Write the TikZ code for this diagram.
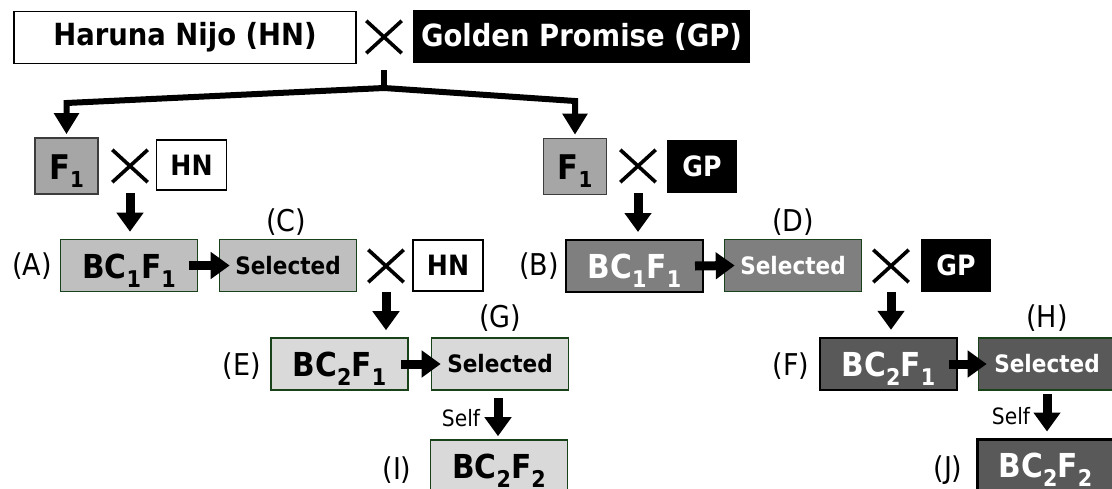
\documentclass[tikz,border=0pt]{standalone}
\usepackage{fontspec}
\setmainfont{DejaVu Sans}[FakeStretch=0.9]
\usetikzlibrary{arrows.meta,calc}

\definecolor{edgegreen}{RGB}{26,66,26}
\definecolor{f1gray}{RGB}{166,166,166}
\definecolor{f1edge}{RGB}{60,60,60}
\definecolor{bcone}{RGB}{191,191,191}
\definecolor{bctwo}{RGB}{217,217,217}
\definecolor{gpone}{RGB}{127,127,127}
\definecolor{gptwo}{RGB}{89,89,89}

% lowered, smaller digit used as a subscript: size, drop, text
\newcommand\lowered[3]{\raisebox{-#2pt}{\fontsize{#1}{#1}\selectfont #3}}
\newcommand\bcf[2]{BC\lowered{23}{9}{#1}F\lowered{23}{9}{#2}}

\tikzset{
  cell/.style={draw, line width=1.6pt, inner sep=0pt, align=center},
  parent/.style={cell, minimum height=52pt, font=\fontsize{30.5}{30.5}\selectfont\bfseries},
  mini/.style={cell, minimum width=70pt, minimum height=51pt, font=\fontsize{28}{28}\selectfont\bfseries},
  blackcell/.style={fill=black, draw=none, text=white},
  fone/.style={cell, draw=f1edge, fill=f1gray, minimum width=63pt, minimum height=56pt,
    font=\fontsize{34}{34}\selectfont\bfseries, text height=34pt, text depth=8pt},
  gen/.style={cell, minimum width=137pt, minimum height=52pt,
    font=\fontsize{33}{33}\selectfont\bfseries, text height=34pt, text depth=9pt},
  sel/.style={cell, minimum width=137pt, minimum height=52pt,
    font=\fontsize{24}{24}\selectfont\bfseries},
  tag/.style={inner sep=0pt, font=\fontsize{30}{30}\selectfont},
  selftag/.style={inner sep=0pt, font=\fontsize{22.5}{22.5}\selectfont},
  crossmark/.style={inner sep=0pt, minimum width=35pt, minimum height=32pt},
  crossline/.style={line width=3.6pt},
  flow/.style={line width=9pt, -{Triangle[width=26pt,length=19pt]}},
  trunk/.style={line width=6pt, line join=miter},
  branch/.style={trunk, -{Triangle[width=24pt,length=21pt]}},
}

\begin{document}
\begin{tikzpicture}[x=1pt,y=-1pt]
\useasboundingbox (0,0) rectangle (1112,488);
\clip (0,0) rectangle (1112,488);

% parents
\node[parent, minimum width=342pt, fill=white] (hn0) at (185,37.5) {Haruna Nijo (HN)};
\node[crossmark] (x0) at (384,37) {};
\node[parent, blackcell, minimum width=337pt, minimum height=53pt] (gp0) at (581.5,36.5) {Golden Promise (GP)};

% F1 crosses
\node[fone] (f1a) at (66.5,166) {F\lowered{22}{8}{1}};
\node[crossmark] (x1) at (130,166) {};
\node[mini, fill=white, minimum height=50pt] (hn1) at (191.5,165) {HN};

\node[fone] (f1b) at (575,166.5) {F\lowered{22}{8}{1}};
\node[crossmark] (x2) at (638,166) {};
\node[mini, blackcell, minimum height=53pt] (gp1) at (702,166.5) {GP};

% BC1F1 row
\node[tag] (labA) at (32,266) {(A)};
\node[gen, draw=edgegreen, fill=bcone] (A) at (129,265.5) {\bcf{1}{1}};
\node[tag] (labC) at (286,222) {(C)};
\node[sel, draw=edgegreen, fill=bcone] (C) at (288,265.5) {Selected};
\node[crossmark] (x3) at (386,266) {};
\node[mini, fill=white] (hn2) at (448,265.5) {HN};

\node[tag] (labB) at (539,266) {(B)};
\node[gen, draw=black, line width=2pt, fill=gpone, text=white] (B) at (634.5,266) {\bcf{1}{1}};
\node[tag] (labD) at (793,222) {(D)};
\node[sel, draw=edgegreen, fill=gpone, text=white] (D) at (793,265.5) {Selected};
\node[crossmark] (x4) at (891,266) {};
\node[mini, blackcell, minimum height=53pt] (gp2) at (956,265.5) {GP};

% BC2F1 row
\node[tag] (labE) at (242,366) {(E)};
\node[gen, draw=edgegreen, fill=bctwo] (E) at (339.5,364) {\bcf{2}{1}};
\node[tag] (labG) at (500,318) {(G)};
\node[sel, draw=edgegreen, fill=bctwo] (G) at (500,364) {Selected};

\node[tag] (labF) at (791,366) {(F)};
\node[gen, draw=black, line width=2.4pt, fill=gptwo, text=white] (F) at (888.5,364) {\bcf{2}{1}};
\node[tag] (labH) at (1047,318) {(H)};
\node[sel, draw=edgegreen, fill=gptwo, text=white] (H) at (1047,364) {Selected};

% BC2F2 row
\node[selftag] (selfI) at (461,418) {Self};
\node[tag] (labI) at (397,470) {(I)};
\node[gen, draw=edgegreen, fill=bctwo] (I) at (499,466) {\bcf{2}{2}};

\node[selftag] (selfJ) at (1011,416) {Self};
\node[tag] (labJ) at (948,470) {(J)};
\node[gen, draw=black, line width=3pt, fill=gptwo, text=white] (J) at (1045.5,465) {\bcf{2}{2}};

% cross symbols
\foreach \c in {x0,x1,x2,x3,x4}
  \draw[crossline] (\c.north west) -- (\c.south east) (\c.north east) -- (\c.south west);

% split from the first cross to both F1 plants
\coordinate (stemtop) at (384,70);
\coordinate (hub) at (384,88);
\coordinate (bendL) at (66.5,103);
\coordinate (bendR) at (575,101);
\draw[trunk] (stemtop) -- (hub);
\draw[branch] (hub) -- (bendL) -- ($(f1a.north)+(0,-3)$);
\draw[branch] (hub) -- (bendR) -- ($(f1b.north)+(0,-3)$);

% backcross arrows
\draw[flow] ($(x1.south)+(0,11)$) -- ($(x1 |- A.north)+(0,-7)$);
\draw[flow] ($(x2.south)+(0,11)$) -- ($(x2 |- B.north)+(0,-7)$);
\draw[flow] ($(x3.south)+(0,10)$) -- ($(x3 |- E.north)+(0,-7)$);
\draw[flow] ($(x4.south)+(0,10)$) -- ($(x4 |- F.north)+(0,-7)$);

% selection arrows
\draw[flow] ($(A.east)+(-9,0)$) -- ($(C.west)+(11,0)$);
\draw[flow] ($(B.east)+(-9,0)$) -- ($(D.west)+(11,0)$);
\draw[flow] ($(E.east)+(-8,0)$) -- ($(G.west)+(10,0)$);
\draw[flow] ($(F.east)+(-9,0)$) -- ($(H.west)+(9,0)$);

% selfing arrows
\draw[flow] ($(G.south)+(-2,7)$) -- ($(I.north)+(-1,-3)$);
\draw[flow] ($(H.south)+(0,3)$) -- ($(J.north)+(1.5,-6)$);
\end{tikzpicture}
\end{document}
